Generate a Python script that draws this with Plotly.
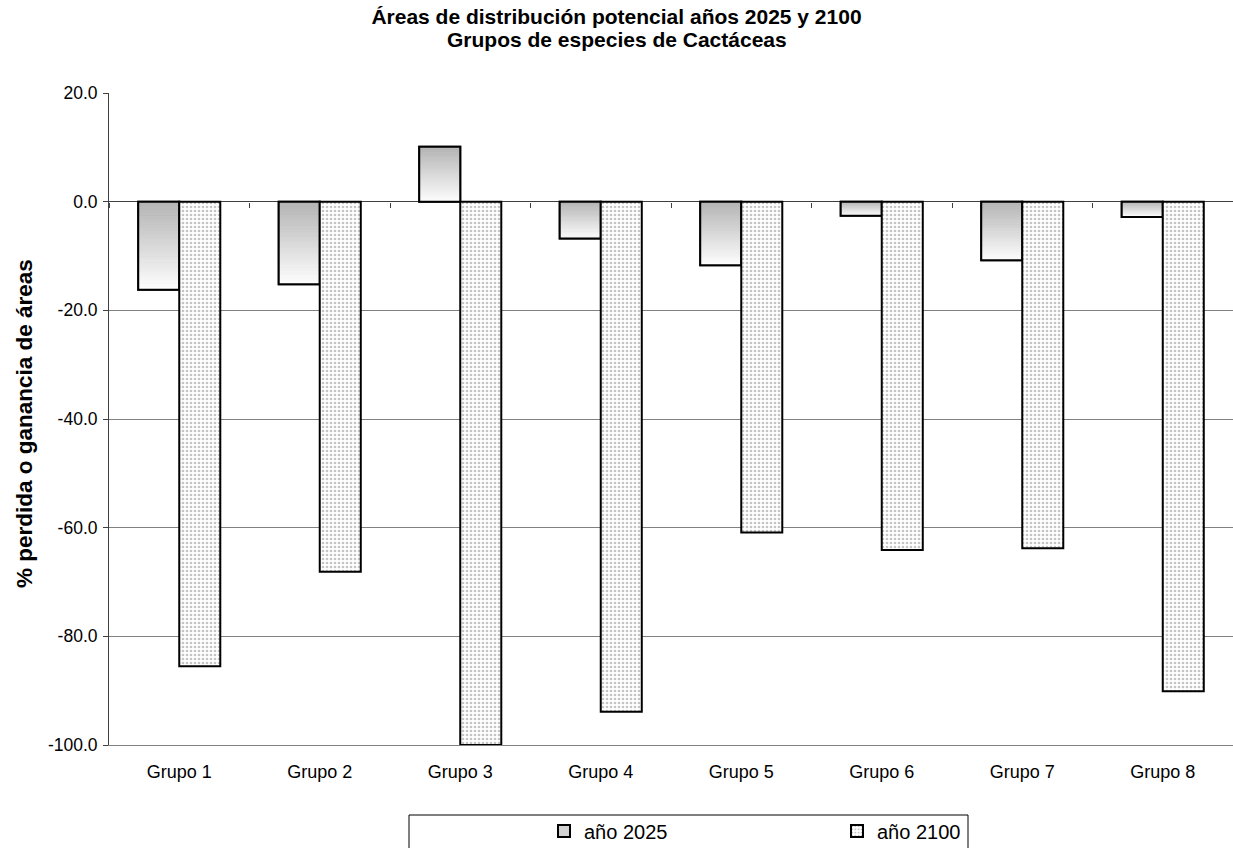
import plotly.graph_objects as go

# Potential distribution area change (%) per cactus species group
groups = ["Grupo 1", "Grupo 2", "Grupo 3", "Grupo 4",
          "Grupo 5", "Grupo 6", "Grupo 7", "Grupo 8"]
year_2025 = [-16.2, -15.2, 10.1, -6.8, -11.7, -2.6, -10.8, -2.8]
year_2100 = [-85.5, -68.1, -100.0, -93.9, -60.9, -64.1, -63.8, -90.1]
y_ticks = [20, 0, -20, -40, -60, -80, -100]

Y_MIN, Y_MAX = -100, 20
FONT = "Liberation Sans, Arial, sans-serif"
BAR_W = 0.292
N_SEG = 30
DARK, LIGHT = 180, 253
W, H = 1233, 848

fig = go.Figure()

# legend entry + base fill for the 2025 series
fig.add_trace(go.Bar(
    x=groups, y=year_2025, name="año 2025",
    width=BAR_W, offset=-BAR_W,
    marker=dict(color="#d2d2d2", line=dict(color="black", width=2)),
))

# vertical gradient inside each 2025 bar: dark at the top, light at the bottom
for k in range(N_SEG):
    bases, heights = [], []
    for v in year_2025:
        span = abs(v)
        top = max(0.0, v) - span * k / N_SEG
        bases.append(top - span / N_SEG)
        heights.append(span / N_SEG)
    g = round(DARK + (LIGHT - DARK) * k / (N_SEG - 1))
    col = f"rgb({g},{g},{g})"
    fig.add_trace(go.Bar(
        x=groups, y=heights, base=bases,
        width=BAR_W, offset=-BAR_W,
        marker=dict(color=col, line=dict(color=col, width=0.6)),
        showlegend=False, hoverinfo="skip",
    ))

# crisp outline over the gradient
fig.add_trace(go.Bar(
    x=groups, y=year_2025,
    width=BAR_W, offset=-BAR_W,
    marker=dict(color="rgba(0,0,0,0)", line=dict(color="black", width=2)),
    showlegend=False, hoverinfo="skip",
))

# 2100 series with a fine dotted fill
fig.add_trace(go.Bar(
    x=groups, y=year_2100, name="año 2100",
    width=BAR_W, offset=0,
    marker=dict(
        color="white",
        line=dict(color="black", width=2),
        pattern=dict(shape=".", fgcolor="#8a8a8a", bgcolor="white",
                     size=4, solidity=0.35),
    ),
))

zero_pos = (0 - Y_MIN) / (Y_MAX - Y_MIN)
boundaries = [i - 0.5 for i in range(len(groups) + 1)]

# legend frame
LEG_X0, LEG_X1 = (409 - 109) / 1124, (968 - 109) / 1124
LEG_Y0, LEG_Y1 = (745 - 852) / 652, (745 - 815) / 652

fig.update_layout(
    width=W, height=H,
    margin=dict(l=109, r=0, t=93, b=103, autoexpand=False),
    paper_bgcolor="white", plot_bgcolor="white",
    barmode="overlay",
    font=dict(family=FONT, size=18, color="black"),
    title=dict(
        text="<b>Áreas de distribución potencial años 2025 y 2100</b>",
        x=0.5, xanchor="center", y=1 - 17 / H, yanchor="middle",
        font=dict(family=FONT, size=21, color="black"),
    ),
    annotations=[
        dict(text="<b>Grupos de especies de Cactáceas</b>",
             xref="paper", yref="paper",
             x=(W / 2 - 109) / 1124, y=(745 - 40) / 652,
             xanchor="center", yanchor="middle", showarrow=False,
             font=dict(family=FONT, size=21, color="black")),
        dict(text="<b>% perdida o ganancia de áreas</b>",
             xref="paper", yref="paper", textangle=-90,
             x=(24 - 109) / 1124, y=(745 - 424) / 652,
             xanchor="center", yanchor="middle", showarrow=False,
             font=dict(family=FONT, size=22.5, color="black")),
    ],
    xaxis=dict(
        type="category", categoryorder="array", categoryarray=groups,
        range=[-0.5, len(groups) - 0.5], automargin=False,
        showgrid=False, zeroline=False,
        showline=True, linecolor="#808080", linewidth=1,
        ticks="outside", ticklen=10, tickcolor="rgba(0,0,0,0)",
        tickfont=dict(family=FONT, size=18),
    ),
    xaxis2=dict(
        overlaying="x", anchor="free", position=zero_pos,
        range=[-0.5, len(groups) - 0.5],
        tickmode="array", tickvals=boundaries,
        ticks="outside", ticklen=5, tickcolor="#404040", tickwidth=1,
        showticklabels=False, showgrid=False, zeroline=False, showline=False,
    ),
    yaxis=dict(
        range=[Y_MIN, Y_MAX], automargin=False,
        tickmode="array", tickvals=y_ticks,
        ticktext=[f"{v:.1f}" for v in y_ticks],
        showgrid=True, gridcolor="#808080", gridwidth=1,
        zeroline=True, zerolinecolor="#404040", zerolinewidth=1,
        showline=True, linecolor="#404040", linewidth=1,
        ticks="outside", ticklen=5, tickcolor="#404040",
        ticklabelstandoff=2,
        tickfont=dict(family=FONT, size=17.5),
    ),
    legend=dict(
        orientation="h", x=(544 - 109) / 1124, xanchor="left",
        y=(745 - 831) / 652, yanchor="middle",
        entrywidth=248, entrywidthmode="pixels",
        font=dict(family=FONT, size=20), bgcolor="rgba(0,0,0,0)",
        borderwidth=0,
    ),
    shapes=[dict(type="rect", xref="paper", yref="paper",
                 x0=LEG_X0, x1=LEG_X1, y0=LEG_Y0, y1=LEG_Y1,
                 line=dict(color="black", width=1), fillcolor="rgba(0,0,0,0)")],
    showlegend=True,
)

# dummy trace so the boundary-tick axis is drawn
fig.add_trace(go.Scatter(x=[0], y=[None], xaxis="x2", showlegend=False,
                         hoverinfo="skip", mode="markers"))

fig.write_html("out.html")
